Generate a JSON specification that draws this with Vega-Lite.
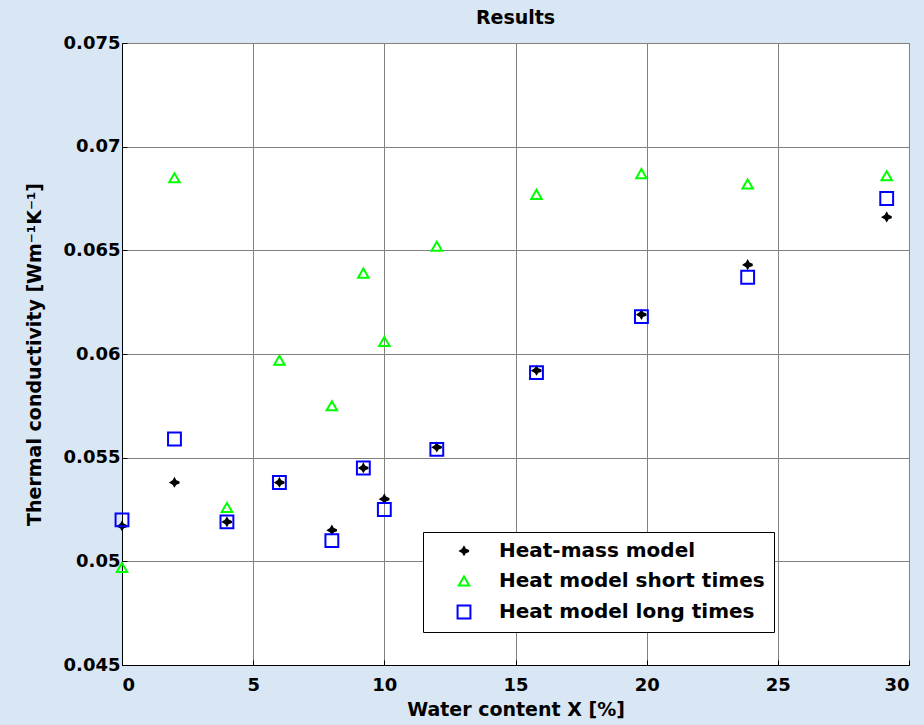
{
  "$schema": "https://vega.github.io/schema/vega-lite/v6.json",
  "width": 787,
  "height": 622,
  "autosize": {"type": "none"},
  "padding": {"left": 122, "top": 43, "right": 15, "bottom": 60},
  "background": "#d9e6f3",
  "title": {"text": "Results", "font": "DejaVu Sans", "fontSize": 19, "fontWeight": "bold", "color": "black", "anchor": "middle", "offset": 6},
  "config": {
    "view": {"fill": "white", "stroke": "#808080", "strokeWidth": 1},
    "axis": {
      "labelFont": "DejaVu Sans", "labelFontSize": 18, "labelFontWeight": "bold", "labelColor": "black",
      "titleFont": "DejaVu Sans", "titleFontSize": 19, "titleFontWeight": "bold", "titleColor": "black",
      "domainColor": "black", "domainWidth": 1, "gridColor": "#808080", "gridWidth": 1, "gridOpacity": 1,
      "ticks": true, "tickColor": "black", "tickSize": -5
    }
  },
  "data": {"values": [
    {"x": 0, "y": 0.0517, "series": "Heat-mass model"},
    {"x": 2, "y": 0.0538, "series": "Heat-mass model"},
    {"x": 4, "y": 0.0519, "series": "Heat-mass model"},
    {"x": 6, "y": 0.0538, "series": "Heat-mass model"},
    {"x": 8, "y": 0.0515, "series": "Heat-mass model"},
    {"x": 9.2, "y": 0.0545, "series": "Heat-mass model"},
    {"x": 10, "y": 0.0530, "series": "Heat-mass model"},
    {"x": 12, "y": 0.0555, "series": "Heat-mass model"},
    {"x": 15.8, "y": 0.0592, "series": "Heat-mass model"},
    {"x": 19.8, "y": 0.0619, "series": "Heat-mass model"},
    {"x": 23.85, "y": 0.0643, "series": "Heat-mass model"},
    {"x": 29.15, "y": 0.0666, "series": "Heat-mass model"},
    {"x": 0, "y": 0.0497, "series": "Heat model short times"},
    {"x": 2, "y": 0.0685, "series": "Heat model short times"},
    {"x": 4, "y": 0.0526, "series": "Heat model short times"},
    {"x": 6, "y": 0.0597, "series": "Heat model short times"},
    {"x": 8, "y": 0.0575, "series": "Heat model short times"},
    {"x": 9.2, "y": 0.0639, "series": "Heat model short times"},
    {"x": 10, "y": 0.0606, "series": "Heat model short times"},
    {"x": 12, "y": 0.0652, "series": "Heat model short times"},
    {"x": 15.8, "y": 0.0677, "series": "Heat model short times"},
    {"x": 19.8, "y": 0.0687, "series": "Heat model short times"},
    {"x": 23.85, "y": 0.0682, "series": "Heat model short times"},
    {"x": 29.15, "y": 0.0686, "series": "Heat model short times"},
    {"x": 0, "y": 0.0520, "series": "Heat model long times"},
    {"x": 2, "y": 0.0559, "series": "Heat model long times"},
    {"x": 4, "y": 0.0519, "series": "Heat model long times"},
    {"x": 6, "y": 0.0538, "series": "Heat model long times"},
    {"x": 8, "y": 0.0510, "series": "Heat model long times"},
    {"x": 9.2, "y": 0.0545, "series": "Heat model long times"},
    {"x": 10, "y": 0.0525, "series": "Heat model long times"},
    {"x": 12, "y": 0.0554, "series": "Heat model long times"},
    {"x": 15.8, "y": 0.0591, "series": "Heat model long times"},
    {"x": 19.8, "y": 0.0618, "series": "Heat model long times"},
    {"x": 23.85, "y": 0.0637, "series": "Heat model long times"},
    {"x": 29.15, "y": 0.0675, "series": "Heat model long times"}
  ]},
  "mark": {"type": "point", "filled": false, "strokeWidth": 2, "opacity": 1},
  "encoding": {
    "x": {"field": "x", "type": "quantitative",
      "scale": {"domain": [0, 30], "nice": false, "zero": false},
      "axis": {"title": "Water content X [%]", "values": [0, 5, 10, 15, 20, 25, 30], "labelPadding": 16, "titlePadding": 6}},
    "y": {"field": "y", "type": "quantitative",
      "scale": {"domain": [0.045, 0.075], "nice": false, "zero": false},
      "axis": {"title": "Thermal conductivity [Wm⁻¹K⁻¹]", "values": [0.045, 0.05, 0.055, 0.06, 0.065, 0.07, 0.075], "format": ".3~f", "labelPadding": 7, "titlePadding": 19}},
    "color": {"field": "series", "type": "nominal",
      "scale": {"domain": ["Heat-mass model", "Heat model short times", "Heat model long times"], "range": ["black", "#00ff00", "#0000ff"]},
      "legend": {"title": null, "orient": "none", "legendX": 301, "legendY": 489,
        "fillColor": "white", "strokeColor": "black", "padding": 9, "rowPadding": 10,
        "labelFont": "DejaVu Sans", "labelFontSize": 20, "labelFontWeight": "bold", "labelColor": "black", "labelLimit": 400,
        "labelOffset": 25, "symbolOffset": 22, "symbolStrokeWidth": 2}},
    "shape": {"field": "series", "type": "nominal",
      "scale": {"domain": ["Heat-mass model", "Heat model short times", "Heat model long times"],
        "range": ["M-1,0L-0.3,-0.45L0,-1L0.3,-0.45L1.1,-0.1L1.1,0.1L0.3,0.4L0,0.9L-0.3,0.4Z", "triangle-up", "square"]}},
    "fill": {"field": "series", "type": "nominal",
      "scale": {"domain": ["Heat-mass model", "Heat model short times", "Heat model long times"], "range": ["black", "transparent", "transparent"]}},
    "size": {"field": "series", "type": "nominal", "legend": null,
      "scale": {"domain": ["Heat-mass model", "Heat model short times", "Heat model long times"], "range": [55, 165, 110]}}
  }
}
